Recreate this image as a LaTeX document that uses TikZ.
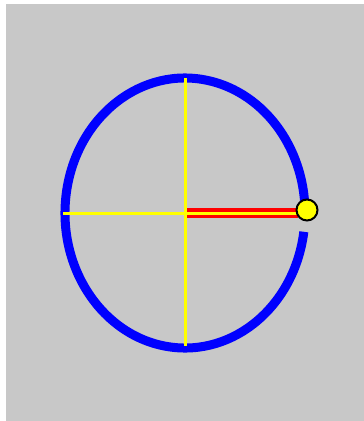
\documentclass[tikz,border=0pt]{standalone}
\definecolor{bggray}{RGB}{200,200,200}
\definecolor{pblue}{RGB}{0,0,255}
\definecolor{pyellow}{RGB}{255,255,0}
\definecolor{pred}{RGB}{255,0,0}
\tikzset{
  ring/.style={draw=pblue,line width=9pt},
  axis/.style={draw=pyellow,line width=3pt},
  radius line/.style={draw=pred,line width=10pt},
  knob/.style={circle,draw=black,line width=2pt,fill=pyellow,minimum size=21pt,inner sep=0pt}
}
\begin{document}
\begin{tikzpicture}[x=1pt,y=-1pt]
\useasboundingbox (0,0) rectangle (364,421);
\fill[white] (0,0) rectangle (364,421);
\fill[bggray] (6,4) rectangle (364,421);
\coordinate (c) at (185,213);
\draw[ring] (c) ++(8:120 and 135) arc[start angle=8,end angle=360,x radius=120,y radius=135];
\coordinate (l) at (63,213);
\coordinate (r) at (298,213);
\coordinate (t) at (185,78);
\coordinate (b) at (185,346);
\draw[radius line] (187,213) -- (r);
\draw[axis] (l) -- (r);
\draw[axis] (t) -- (b);
\node[knob] (k) at (307,210) {};
\end{tikzpicture}
\end{document}
